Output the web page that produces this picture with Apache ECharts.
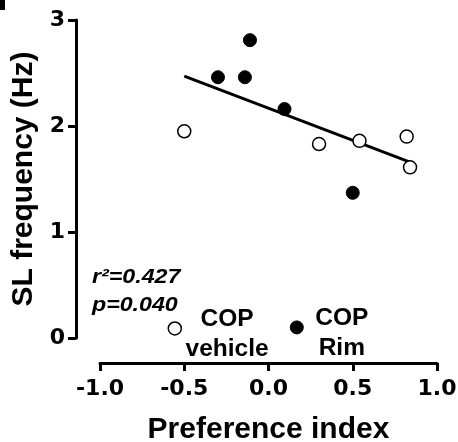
<!DOCTYPE html>
<html>
<head>
<meta charset="utf-8">
<script src="https://cdn.jsdelivr.net/npm/echarts@6/dist/echarts.min.js"></script>
<style>
  html, body { margin: 0; padding: 0; background: #fff; }
  #chart { width: 458px; height: 442px; }
</style>
</head>
<body>
<div id="chart"></div>
<script>
// ---- data ----
var vehicleX = [-0.50, 0.30, 0.54, 0.82, 0.84];
var vehicleY = [1.95, 1.83, 1.86, 1.90, 1.61];
var rimX = [-0.30, -0.11, -0.14, 0.095, 0.50];
var rimY = [2.46, 2.81, 2.46, 2.16, 1.37];
var fitX = [-0.50, 0.84];
var fitY = [2.47, 1.66];
var legendX = [-0.556, 0.168];
var legendY = [0.09, 0.10];
var legendNames = ['COP\nvehicle', 'COP\nRim'];
var xTicks = [-1.0, -0.5, 0.0, 0.5, 1.0];
var yTicks = [0, 1, 2, 3];
var statsText = 'r\u00b2=0.427\np=0.040';

function zip(a, b) { return a.map(function (v, i) { return [v, b[i]]; }); }

var FONT = '"Liberation Sans", Arial, Helvetica, sans-serif';
var TICKFONT = '"DejaVu Sans", "Liberation Sans", sans-serif';
var chart = echarts.init(document.getElementById('chart'), null, { renderer: 'canvas' });

chart.setOption({
  animation: false,
  backgroundColor: '#ffffff',
  grid: { left: 100, top: 20, width: 337, height: 318, containLabel: false, outerBoundsMode: 'none' },
  xAxis: {
    type: 'value', min: -1, max: 1, interval: 0.5,
    offset: 25,
    axisLine: { onZero: false, lineStyle: { color: '#000', width: 3 } },
    axisTick: { show: true, inside: false, length: 8, lineStyle: { color: '#000', width: 3 } },
    axisLabel: {
      margin: 15, color: '#000', fontSize: 22, fontWeight: 'bold', fontFamily: TICKFONT,
      formatter: function (v) { return v.toFixed(1); }
    },
    splitLine: { show: false },
    name: 'Preference index', nameLocation: 'middle', nameGap: 52,
    nameTextStyle: { color: '#000', fontSize: 30, fontWeight: 'bold', fontFamily: FONT }
  },
  yAxis: {
    type: 'value', min: 0, max: 3, interval: 1,
    offset: 24,
    axisLine: { onZero: false, lineStyle: { color: '#000', width: 3 } },
    axisTick: { show: true, inside: false, length: 8, lineStyle: { color: '#000', width: 3 } },
    axisLabel: { margin: 11, color: '#000', fontSize: 22, fontWeight: 'bold', fontFamily: TICKFONT },
    splitLine: { show: false },
    name: 'SL frequency (Hz)', nameLocation: 'middle', nameGap: 32,
    nameTextStyle: { color: '#000', fontSize: 30, fontWeight: 'bold', fontFamily: FONT }
  },
  graphic: [
    { type: 'rect', shape: { x: 0, y: 0, width: 5, height: 10 }, style: { fill: '#000' } },
    { type: 'text', x: 92, y: 264, scaleX: 1.16, scaleY: 1,
      style: { text: statsText, fill: '#000', font: 'italic bold 20px ' + FONT,
               lineHeight: 27.5, verticalAlign: 'top', align: 'left' } }
  ],
  series: [
    {
      type: 'line', data: zip(fitX, fitY), showSymbol: false, symbol: 'none',
      lineStyle: { color: '#000', width: 3 }, z: 2
    },
    {
      type: 'scatter', data: zip(vehicleX, vehicleY), symbol: 'circle', symbolSize: 13,
      itemStyle: { color: '#fff', borderColor: '#000', borderWidth: 1.5, opacity: 1 }, z: 3
    },
    {
      type: 'scatter', data: zip(rimX, rimY), symbol: 'circle', symbolSize: 13,
      itemStyle: { color: '#000', borderColor: '#000', borderWidth: 1, opacity: 1 }, z: 3
    },
    {
      type: 'scatter', symbol: 'circle', symbolSize: 13, z: 3,
      itemStyle: { opacity: 1 },
      data: [
        { value: [legendX[0], legendY[0]],
          itemStyle: { color: '#fff', borderColor: '#000', borderWidth: 1.5, opacity: 1 },
          label: { show: true, formatter: legendNames[0], position: [59.5, 13],
                   align: 'center', verticalAlign: 'middle', lineHeight: 29.5,
                   color: '#000', fontSize: 24.5, fontWeight: 'bold', fontFamily: FONT } },
        { value: [legendX[1], legendY[1]],
          itemStyle: { color: '#000', borderColor: '#000', borderWidth: 1, opacity: 1 },
          label: { show: true, formatter: legendNames[1], position: [52, 13],
                   align: 'center', verticalAlign: 'middle', lineHeight: 29.5,
                   color: '#000', fontSize: 24.5, fontWeight: 'bold', fontFamily: FONT } }
      ]
    }
  ]
});
</script>
</body>
</html>
